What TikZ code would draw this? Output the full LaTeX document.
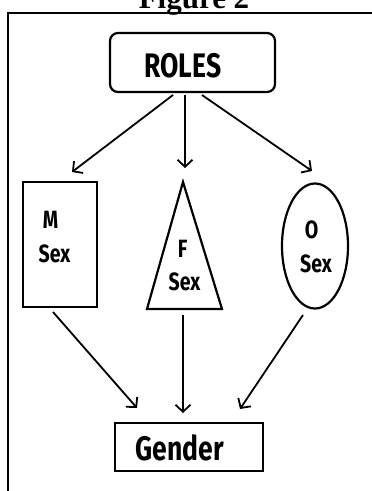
\documentclass[tikz,border=0pt]{standalone}
\usepackage{fontspec}
\setmainfont{Fira Sans}[FakeStretch=0.78]
\newfontfamily\titlefont{Liberation Serif}
\usetikzlibrary{shapes.geometric,arrows.meta,calc}
\tikzset{
  box/.style={draw, line width=2.2pt, inner sep=0pt},
  big/.style={font=\bfseries\fontsize{34}{36}\selectfont, anchor=base, inner sep=0pt},
  small/.style={font=\bfseries\fontsize{25}{27}\selectfont, anchor=base, inner sep=0pt},
  arr/.style={line width=1.8pt, -{Straight Barb[length=7pt,width=15pt,line width=1.8pt]}},
}
\begin{document}
\begin{tikzpicture}[x=1pt,y=-1pt]
\useasboundingbox (0,0) rectangle (372,491);
\clip (0,0) rectangle (372,491);
% title and frame
\node[font=\titlefont\bfseries\fontsize{31}{33}\selectfont, anchor=base, inner sep=0pt] (title) at (194,8) {Figure 2};
\draw[line width=2pt] (8.3,491) -- (8.3,13) -- (372,13);
% ROLES
\node[box, rounded corners=8pt, minimum width=165pt, minimum height=59pt] (roles) at (192.5,62.5) {};
\node[big] (rolest) at (183,77) {ROLES};
% M Sex
\node[box, minimum width=74pt, minimum height=125pt] (mbox) at (60,244.5) {};
\node[small] (mt) at (50.5,228) {M};
\node[small] (ms) at (54.5,262) {Sex};
% F Sex triangle
\coordinate (fa) at (183,182);
\coordinate (fb) at (222,309);
\coordinate (fc) at (147,309);
\draw[line width=2.2pt, line join=miter] (fa) -- (fb) -- (fc) -- cycle;
\node[small] (ft) at (182.5,257) {F};
\node[small] (fs) at (184.5,290) {Sex};
% O Sex ellipse
\node[box, ellipse, minimum width=66pt, minimum height=125pt] (obox) at (315,246) {};
\node[small] (ot) at (311.5,238) {O};
\node[small] (os) at (316,272) {Sex};
% Gender
\node[box, minimum width=148pt, minimum height=48pt] (gbox) at (189,447) {};
\node[big] (gt) at (180,460) {Gender};
% connector ends
\coordinate (r1) at (173,95);
\coordinate (r2) at (185,95);
\coordinate (r3) at (202,95);
\coordinate (t1) at (72,172);
\coordinate (t2) at (185,168);
\coordinate (t3) at (312,171);
\coordinate (m1) at (53,312);
\coordinate (f1) at (183,315);
\coordinate (o1) at (303,315);
\coordinate (g1) at (137,408);
\coordinate (g2) at (183,413);
\coordinate (g3) at (240,409);
\draw[arr] (r1) -- (t1);
\draw[arr] (r2) -- (t2);
\draw[arr] (r3) -- (t3);
\draw[arr] (m1) -- (g1);
\draw[arr] (f1) -- (g2);
\draw[arr] (o1) -- (g3);
\end{tikzpicture}
\end{document}
